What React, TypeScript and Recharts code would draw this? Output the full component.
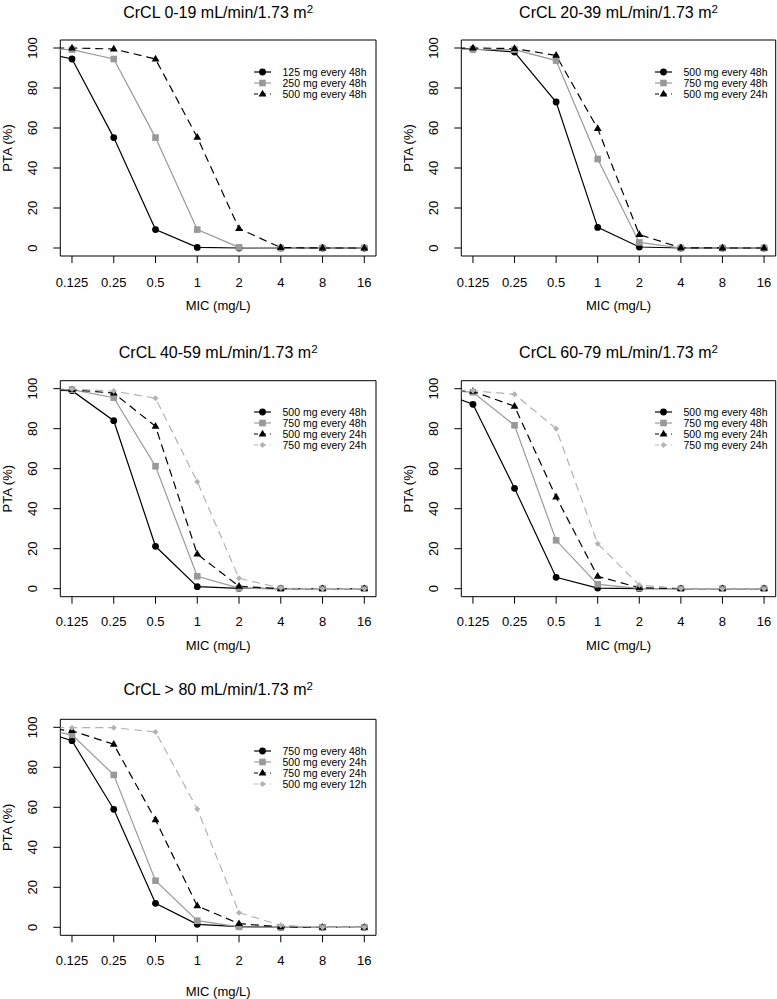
import React from 'react';
import { LineChart, Line, XAxis, YAxis, ReferenceArea, Legend } from 'recharts';

// MIC on a log2 index: 0 => 0.125 mg/L ... 7 => 16 mg/L; -1 => 0.0625 mg/L (outside the plotted range, clipped)
const micIndex = [-1, 0, 1, 2, 3, 4, 5, 6, 7];
const xTickValues = [0, 1, 2, 3, 4, 5, 6, 7];
const xTickLabels = ['0.125', '0.25', '0.5', '1', '2', '4', '8', '16'];
const yTickValues = [0, 20, 40, 60, 80, 100];

// Panel 1: CrCL 0-19
const p1Labels = ['125 mg every 48h', '250 mg every 48h', '500 mg every 48h'];
const p1_125q48 = [99.2, 94.5, 55.2, 9.2, 0.3, 0, 0, 0, 0];
const p1_250q48 = [99.8, 99.2, 94.5, 55.2, 9.2, 0.3, 0, 0, 0];
const p1_500q48 = [100, 100, 99.5, 94.5, 55.3, 9.7, 0.2, 0, 0];

// Panel 2: CrCL 20-39
const p2Labels = ['500 mg every 48h', '750 mg every 48h', '500 mg every 24h'];
const p2_500q48 = [100, 99.5, 98, 73, 10.3, 0.5, 0, 0, 0];
const p2_750q48 = [100, 99.3, 99.2, 93.7, 44.5, 2.8, 0, 0, 0];
const p2_500q24 = [100, 100, 99.7, 96.3, 59.7, 6.7, 0.1, 0, 0];

// Panel 3: CrCL 40-59
const p3Labels = ['500 mg every 48h', '750 mg every 48h', '500 mg every 24h', '750 mg every 24h'];
const p3_500q48 = [99.5, 99, 84, 21.2, 1, 0.2, 0, 0, 0];
const p3_750q48 = [99.8, 99.5, 95.5, 61.2, 6.2, 0.3, 0, 0, 0];
const p3_500q24 = [99.8, 99.5, 97.8, 81.2, 17.3, 1.2, 0, 0, 0];
const p3_750q24 = [100, 99.8, 98.8, 95.2, 53.5, 5.2, 0.3, 0, 0];

// Panel 4: CrCL 60-79
const p4Labels = ['500 mg every 48h', '750 mg every 48h', '500 mg every 24h', '750 mg every 24h'];
const p4_500q48 = [100, 92.2, 50.2, 5.7, 0.3, 0, 0, 0, 0];
const p4_750q48 = [99.8, 98.2, 81.7, 24.2, 2.2, 0.2, 0, 0, 0];
const p4_500q24 = [99.8, 98.7, 91.2, 45.8, 6.2, 0.5, 0, 0, 0];
const p4_750q24 = [99.9, 99, 97.2, 80, 22.5, 1.8, 0.1, 0, 0];

// Panel 5: CrCL > 80
const p5Labels = ['750 mg every 48h', '500 mg every 24h', '750 mg every 24h', '500 mg every 12h'];
const p5_750q48 = [100, 93.3, 59, 12, 1.5, 0.3, 0, 0, 0];
const p5_500q24 = [100, 96.2, 76.2, 23.3, 3.3, 0.2, 0, 0, 0];
const p5_750q24 = [100, 98.3, 91.5, 53.7, 10.7, 1.8, 0.2, 0, 0];
const p5_500q12 = [100, 99.8, 99.8, 97.7, 59.2, 7.3, 1, 0, 0];

const titles = [
  'CrCL 0-19 mL/min/1.73 m',
  'CrCL 20-39 mL/min/1.73 m',
  'CrCL 40-59 mL/min/1.73 m',
  'CrCL 60-79 mL/min/1.73 m',
  'CrCL > 80 mL/min/1.73 m',
];

const X_DOMAIN: [number, number] = [-0.28, 7.28];
const Y_DOMAIN: [number, number] = [-4, 104];

const STYLES = [
  { stroke: '#000000', dash: undefined as string | undefined, shape: 'circle' },
  { stroke: '#999999', dash: undefined as string | undefined, shape: 'square' },
  { stroke: '#000000', dash: '8 5', shape: 'triangle' },
  { stroke: '#b3b3b3', dash: '8 5', shape: 'diamond' },
];

function marker(shape: string, cx: number, cy: number, fill: string, key?: any) {
  if (shape === 'circle') return <circle key={key} cx={cx} cy={cy} r={3.4} fill={fill} />;
  if (shape === 'square')
    return <rect key={key} x={cx - 3.3} y={cy - 3.3} width={6.6} height={6.6} fill={fill} />;
  if (shape === 'triangle')
    return (
      <path
        key={key}
        d={`M${cx},${cy - 4.3} L${cx + 3.9},${cy + 2.4} L${cx - 3.9},${cy + 2.4} Z`}
        fill={fill}
      />
    );
  return (
    <path
      key={key}
      d={`M${cx},${cy - 3} L${cx + 3},${cy} L${cx},${cy + 3} L${cx - 3},${cy} Z`}
      fill={fill}
    />
  );
}

function buildRows(series: number[][]) {
  return micIndex.map((x, i) => {
    const row: any = { x };
    series.forEach((s, j) => {
      row['s' + j] = s[i];
    });
    return row;
  });
}

type Cfg = {
  chartLeft: number;
  chartTop: number;
  w: number;
  h: number;
  boxL: number;
  boxR: number;
  boxT: number;
  boxB: number;
  tickDy: number;
  xlabDy: number;
  titleDy: number;
};

const FONT = '"Liberation Sans", Arial, Helvetica, sans-serif';

function Panel({ cfg, series, labels, title }: { cfg: Cfg; series: number[][]; labels: string[]; title: string }) {
  const { chartLeft, chartTop, w, h, boxL, boxR, boxT, boxB, tickDy, xlabDy, titleDy } = cfg;
  const data = buildRows(series);
  const yW = boxL - chartLeft;
  const xH = chartTop + h - boxB;
  const relBoxT = boxT - chartTop;
  const relBoxL = boxL - chartLeft;
  const boxH = boxB - boxT;
  const boxW = boxR - boxL;

  const renderXTick = (props: any) => {
    const { x, y, payload } = props;
    return (
      <text x={x} y={y + tickDy} textAnchor="middle" fontSize={13} fill="#000">
        {xTickLabels[payload.value]}
      </text>
    );
  };
  const renderYTick = (props: any) => {
    const { x, y, payload } = props;
    const cx = x - 21;
    return (
      <text
        x={cx}
        y={y}
        transform={`rotate(-90, ${cx}, ${y})`}
        textAnchor="middle"
        dominantBaseline="central"
        fontSize={13}
        fill="#000"
      >
        {payload.value}
      </text>
    );
  };

  const legendRows = labels.length;
  const rowH = 11;
  const legend = () => (
    <svg width={125} height={legendRows * rowH + 2} style={{ display: 'block', overflow: 'visible' }}>
      {labels.map((lab, i) => {
        const st = STYLES[i];
        const cy = 6 + i * rowH;
        return (
          <g key={lab}>
            <line x1={0} x2={17} y1={cy} y2={cy} stroke={st.stroke} strokeWidth={1.2} strokeDasharray={st.dash ? '4 4' : undefined} />
            {marker(st.shape, 8.5, cy, st.stroke)}
            <text x={28.5} y={cy + 3.8} fontSize={10.5} fill="#000">
              {lab}
            </text>
          </g>
        );
      })}
    </svg>
  );

  return (
    <>
      <div
        style={{
          position: 'absolute',
          left: (boxL + boxR) / 2 - 200,
          width: 400,
          top: boxT + titleDy - 8.7,
          textAlign: 'center',
          fontSize: 16,
          lineHeight: '18px',
          color: '#000',
          whiteSpace: 'nowrap',
        }}
      >
        {title}
        <span style={{ fontSize: 11.5, position: 'relative', top: -5 }}>2</span>
      </div>
      <div style={{ position: 'absolute', left: chartLeft, top: chartTop }}>
        <LineChart
          width={w}
          height={h}
          data={data}
          margin={{ top: relBoxT, right: chartLeft + w - boxR, left: 0, bottom: 0 }}
        >
          <XAxis
            dataKey="x"
            type="number"
            domain={X_DOMAIN}
            allowDataOverflow
            ticks={xTickValues}
            interval={0}
            height={xH}
            axisLine={false}
            tickLine={{ stroke: '#000', strokeWidth: 1 }}
            stroke="#000"
            tickSize={7}
            tickMargin={0}
            tick={renderXTick}
            label={{
              content: () => (
                <text x={relBoxL + boxW / 2} y={relBoxT + boxH + xlabDy + 4.6} textAnchor="middle" fontSize={13} fill="#000">
                  MIC (mg/L)
                </text>
              ),
            }}
          />
          <YAxis
            type="number"
            domain={Y_DOMAIN}
            allowDataOverflow
            ticks={yTickValues}
            interval={0}
            width={yW}
            axisLine={false}
            tickLine={{ stroke: '#000', strokeWidth: 1 }}
            stroke="#000"
            tickSize={7}
            tickMargin={0}
            tick={renderYTick}
            label={{
              content: () => {
                const cx = relBoxL - 52.5;
                const cy = relBoxT + boxH / 2;
                return (
                  <text
                    x={cx}
                    y={cy}
                    transform={`rotate(-90, ${cx}, ${cy})`}
                    textAnchor="middle"
                    dominantBaseline="central"
                    fontSize={13}
                    fill="#000"
                  >
                    PTA (%)
                  </text>
                );
              },
            }}
          />
          <ReferenceArea
            x1={X_DOMAIN[0]}
            x2={X_DOMAIN[1]}
            y1={Y_DOMAIN[0]}
            y2={Y_DOMAIN[1]}
            fill="none"
            fillOpacity={0}
            stroke="#000"
            strokeWidth={1}
            ifOverflow="visible"
          />
          {series.map((_, j) => {
            const st = STYLES[j];
            return (
              <Line
                key={'s' + j}
                dataKey={'s' + j}
                type="linear"
                stroke={st.stroke}
                strokeWidth={1.2}
                strokeDasharray={st.dash}
                isAnimationActive={false}
                activeDot={false}
                dot={(p: any) => {
                  if (p.payload.x < X_DOMAIN[0]) return <g key={'d' + j + '-' + p.index} />;
                  return marker(st.shape, p.cx, p.cy, st.stroke, 'd' + j + '-' + p.index);
                }}
              />
            );
          })}
          <Legend
            layout="vertical"
            align="center"
            verticalAlign="middle"
            content={legend}
            wrapperStyle={{ left: relBoxL + 194, top: relBoxT + 31.7 - 6, width: 125 }}
          />
        </LineChart>
      </div>
    </>
  );
}

const cfg1: Cfg = { chartLeft: 0, chartTop: 0, w: 388, h: 330, boxL: 60.3, boxR: 376, boxT: 40, boxB: 256, tickDy: 23.5, xlabDy: 49.5, titleDy: -27.5 };
const cfg2: Cfg = { chartLeft: 388, chartTop: 0, w: 389, h: 330, boxL: 461.3, boxR: 775.7, boxT: 40, boxB: 256, tickDy: 23.5, xlabDy: 49.5, titleDy: -27.5 };
const cfg3: Cfg = { chartLeft: 0, chartTop: 341, w: 388, h: 330, boxL: 60.3, boxR: 376, boxT: 380.7, boxB: 596.7, tickDy: 22.5, xlabDy: 48.3, titleDy: -28.2 };
const cfg4: Cfg = { chartLeft: 388, chartTop: 341, w: 389, h: 330, boxL: 461.3, boxR: 775.7, boxT: 380.7, boxB: 596.7, tickDy: 22.5, xlabDy: 48.3, titleDy: -28.2 };
const cfg5: Cfg = { chartLeft: 0, chartTop: 679, w: 388, h: 320, boxL: 60.3, boxR: 376, boxT: 719.3, boxB: 935.3, tickDy: 22.5, xlabDy: 56.5, titleDy: -30 };

export default function App() {
  return (
    <div
      style={{
        position: 'absolute',
        left: 0,
        top: 0,
        width: 777,
        height: 999,
        background: '#fff',
        fontFamily: FONT,
        overflow: 'hidden',
      }}
    >
      <Panel cfg={cfg1} series={[p1_125q48, p1_250q48, p1_500q48]} labels={p1Labels} title={titles[0]} />
      <Panel cfg={cfg2} series={[p2_500q48, p2_750q48, p2_500q24]} labels={p2Labels} title={titles[1]} />
      <Panel cfg={cfg3} series={[p3_500q48, p3_750q48, p3_500q24, p3_750q24]} labels={p3Labels} title={titles[2]} />
      <Panel cfg={cfg4} series={[p4_500q48, p4_750q48, p4_500q24, p4_750q24]} labels={p4Labels} title={titles[3]} />
      <Panel cfg={cfg5} series={[p5_750q48, p5_500q24, p5_750q24, p5_500q12]} labels={p5Labels} title={titles[4]} />
    </div>
  );
}
